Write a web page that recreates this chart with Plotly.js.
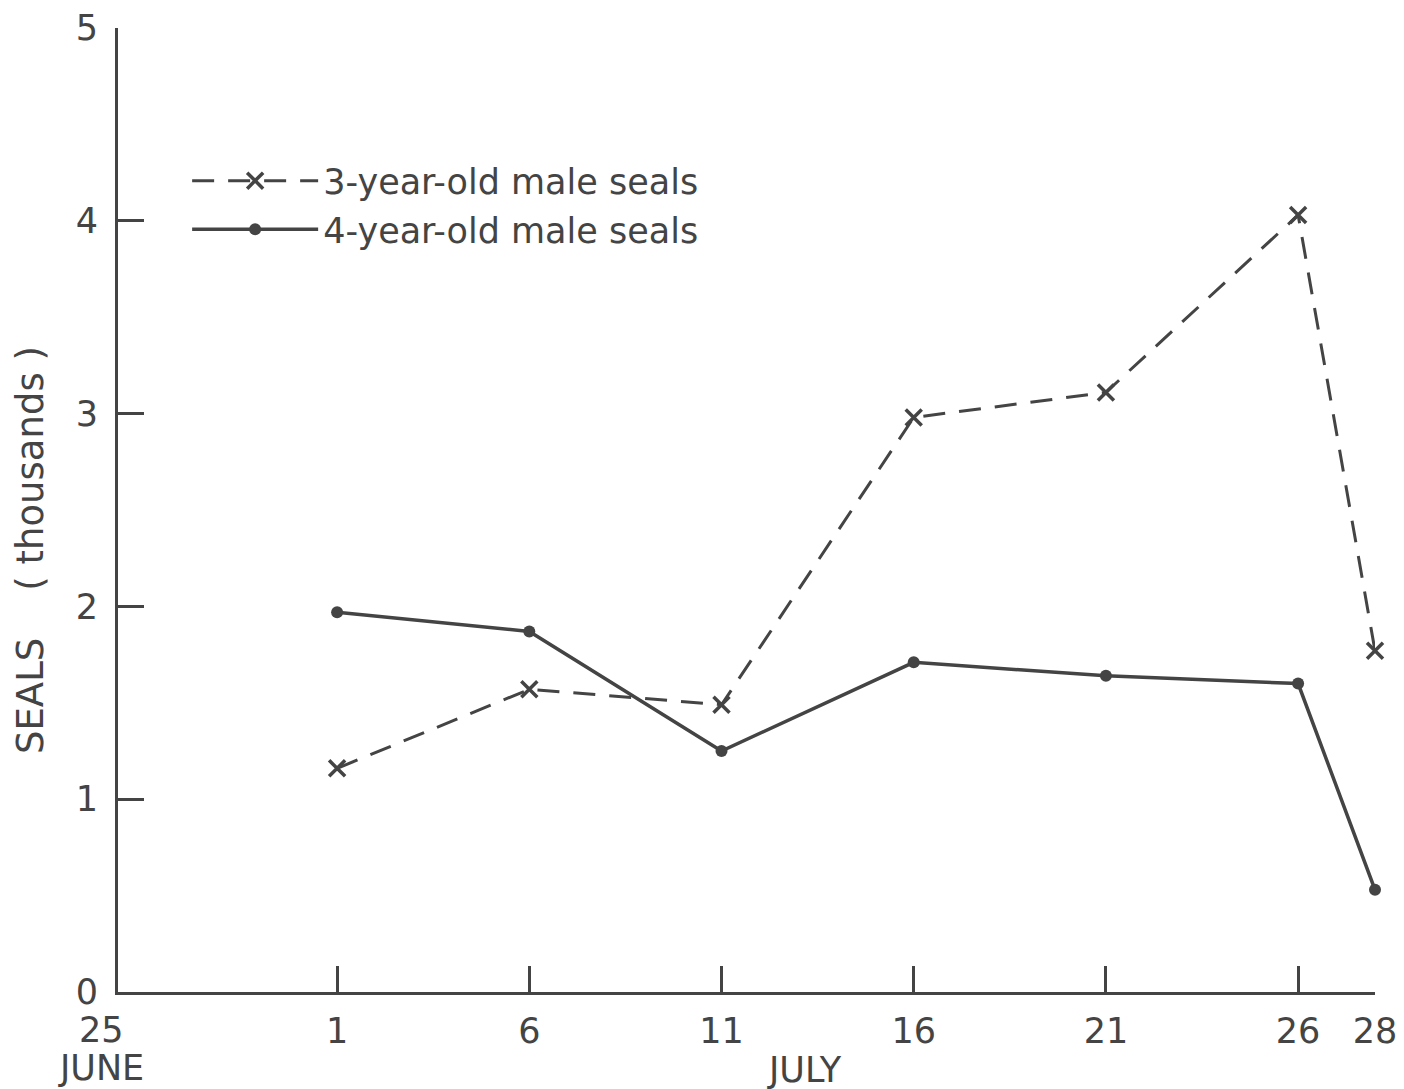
<!DOCTYPE html>
<html>
<head>
<meta charset="utf-8">
<script src="https://cdn.plot.ly/plotly-3.0.1.min.js"></script>
<style>html,body{margin:0;padding:0;background:#fff;}#chart{width:1404px;height:1089px;}</style>
</head>
<body>
<div id="chart"></div>
<script>
// Days of July (June 25 = -5)
var julyDays = [1, 6, 11, 16, 21, 26, 28];
var threeYearOld = [1.16, 1.57, 1.49, 2.98, 3.11, 4.03, 1.77];
var fourYearOld = [1.97, 1.87, 1.25, 1.71, 1.64, 1.60, 0.53];
var xTickVals = [1, 6, 11, 16, 21, 26, 28];
var xTickText = ["1", "6", "11", "16", "21", "26", "28"];
var yTickVals = [0, 1, 2, 3, 4, 5];
var yTickText = ["0", "1", "2", "3", "4", "5"];

var ink = "#444444";
var font = "DejaVu Sans";

var traces = [
  {
    x: julyDays, y: threeYearOld, type: "scatter", mode: "lines+markers",
    name: "3-year-old male seals", cliponaxis: false,
    line: {color: ink, width: 3, dash: "22px,14px"},
    marker: {symbol: "x-thin", size: 16, color: ink, line: {color: ink, width: 3.5}}
  },
  {
    x: julyDays, y: fourYearOld, type: "scatter", mode: "lines+markers",
    name: "4-year-old male seals", cliponaxis: false,
    line: {color: ink, width: 3.5},
    marker: {symbol: "circle", size: 12, color: ink}
  }
];

var layout = {
  width: 1404, height: 1089,
  margin: {l: 118, r: 29, t: 28, b: 97, pad: 0},
  paper_bgcolor: "#fff", plot_bgcolor: "#fff",
  font: {family: font, color: ink, size: 35},
  showlegend: true,
  legend: {
    x: 0.055, y: 0.872, xanchor: "left", yanchor: "top",
    bgcolor: "rgba(0,0,0,0)", font: {size: 35, color: ink, family: font},
    tracegroupgap: 0, itemwidth: 126
  },
  xaxis: {
    range: [-4.7, 28], showgrid: false, zeroline: false,
    showline: true, linecolor: ink, linewidth: 3,
    ticks: "inside", ticklen: 26, tickwidth: 3, tickcolor: ink,
    tickmode: "array", tickvals: xTickVals, ticktext: xTickText,
    tickfont: {size: 35, color: ink, family: font}, ticklabelstandoff: 6
  },
  yaxis: {
    range: [0, 5], showgrid: false, zeroline: false,
    showline: true, linecolor: ink, linewidth: 3,
    ticks: "inside", ticklen: 26, tickwidth: 3, tickcolor: ink,
    tickmode: "array", tickvals: yTickVals, ticktext: yTickText,
    tickfont: {size: 35, color: ink, family: font}, ticklabelstandoff: 10
  },
  annotations: [
    {xref: "paper", yref: "paper", x: -0.0135, y: 0, xanchor: "center", yanchor: "middle",
     yshift: -38, text: "25", showarrow: false, font: {size: 35, color: ink, family: font}},
    {xref: "paper", yref: "paper", x: -0.0135, y: 0, xanchor: "center", yanchor: "middle",
     yshift: -76, text: "JUNE", showarrow: false, font: {size: 35, color: ink, family: font}},
    {xref: "paper", yref: "paper", x: 0.546, y: 0, xanchor: "center", yanchor: "middle",
     yshift: -78, text: "JULY", showarrow: false, font: {size: 35, color: ink, family: font}},
    {xref: "paper", yref: "paper", x: -0.07, y: 0.4585, xanchor: "center", yanchor: "middle",
     text: "SEALS    ( thousands )", textangle: -90, showarrow: false,
     font: {size: 37, color: ink, family: font}}
  ]
};

Plotly.newPlot("chart", traces, layout, {staticPlot: true});
</script>
</body>
</html>
